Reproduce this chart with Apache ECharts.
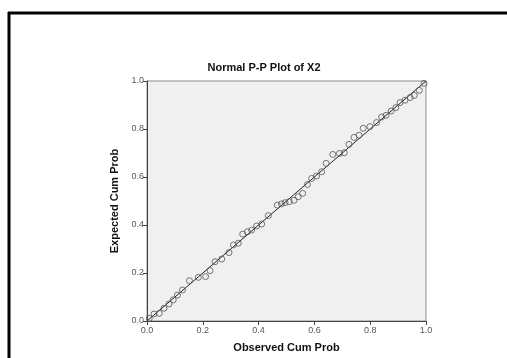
<!DOCTYPE html>
<html>
<head>
<meta charset="utf-8">
<script src="https://cdn.jsdelivr.net/npm/echarts@6/dist/echarts.min.js"></script>
<style>
  html, body { margin: 0; padding: 0; background: #fff; }
  #chart { width: 507px; height: 358px; }
</style>
</head>
<body>
<div id="chart"></div>
<script>
// observed vs expected cumulative probabilities
var observed = [0.008,0.025,0.044,0.061,0.079,0.094,0.109,0.127,0.152,0.184,0.21,0.226,0.244,0.268,0.294,0.31,0.327,0.343,0.36,0.375,0.393,0.411,0.435,0.467,0.482,0.495,0.51,0.527,0.542,0.558,0.575,0.59,0.608,0.626,0.642,0.666,0.69,0.707,0.724,0.742,0.76,0.775,0.799,0.823,0.841,0.857,0.875,0.892,0.907,0.925,0.943,0.958,0.976,0.993];
var expected = [0.011,0.029,0.032,0.053,0.071,0.088,0.108,0.129,0.168,0.182,0.185,0.21,0.247,0.258,0.285,0.317,0.324,0.362,0.372,0.379,0.396,0.404,0.439,0.483,0.488,0.493,0.497,0.503,0.518,0.532,0.569,0.594,0.604,0.622,0.657,0.694,0.698,0.701,0.736,0.765,0.774,0.803,0.81,0.827,0.85,0.857,0.875,0.889,0.91,0.92,0.931,0.94,0.961,0.99];
var refLine = [0, 1];

var points = observed.map(function (v, i) { return [v, expected[i]]; });
var diag = refLine.map(function (v) { return [v, v]; });

var dom = document.getElementById('chart');
var myChart = echarts.init(dom);
var option = {
  animation: false,
  textStyle: { fontFamily: 'Liberation Sans, Arial, sans-serif' },
  title: {
    text: 'Normal P-P Plot of X2',
    left: 259,
    top: 57,
    textAlign: 'center',
    textStyle: { fontSize: 11, fontWeight: 'bold', color: '#111' }
  },
  graphic: [
    { type: 'line', shape: { x1: 8, y1: 13, x2: 507, y2: 13 }, style: { stroke: '#000', lineWidth: 3 } },
    { type: 'line', shape: { x1: 9, y1: 12, x2: 9, y2: 358 }, style: { stroke: '#000', lineWidth: 3 } }
  ],
  grid: {
    left: 147, top: 81, width: 279, height: 240,
    show: true, backgroundColor: '#f0f0f0', borderColor: '#8c8c8c', borderWidth: 1
  },
  xAxis: {
    type: 'value', min: 0, max: 1, interval: 0.2,
    name: 'Observed Cum Prob', nameLocation: 'middle', nameGap: 21,
    nameTextStyle: { fontSize: 11, fontWeight: 'bold', color: '#111' },
    axisLine: { lineStyle: { color: '#444' } },
    axisTick: { show: true, length: 4, lineStyle: { color: '#444' } },
    axisLabel: { fontSize: 9, color: '#555', margin: 5, formatter: function (v) { return v.toFixed(1); } },
    splitLine: { show: false }
  },
  yAxis: {
    type: 'value', min: 0, max: 1, interval: 0.2,
    name: 'Expected Cum Prob', nameLocation: 'middle', nameGap: 21,
    nameTextStyle: { fontSize: 11, fontWeight: 'bold', color: '#111' },
    axisLine: { show: true, lineStyle: { color: '#444' } },
    axisTick: { show: true, length: 4, lineStyle: { color: '#444' } },
    axisLabel: { fontSize: 9, color: '#555', margin: 3, formatter: function (v) { return v.toFixed(1); } },
    splitLine: { show: false }
  },
  series: [
    {
      type: 'line',
      data: diag,
      symbol: 'none',
      lineStyle: { color: '#222', width: 1 },
      silent: true,
      z: 2
    },
    {
      type: 'scatter',
      data: points,
      symbol: 'circle',
      symbolSize: 6,
      itemStyle: { color: 'rgba(0,0,0,0)', borderColor: '#555', borderWidth: 1 },
      z: 3
    }
  ]
};
myChart.setOption(option, true);
</script>
</body>
</html>
